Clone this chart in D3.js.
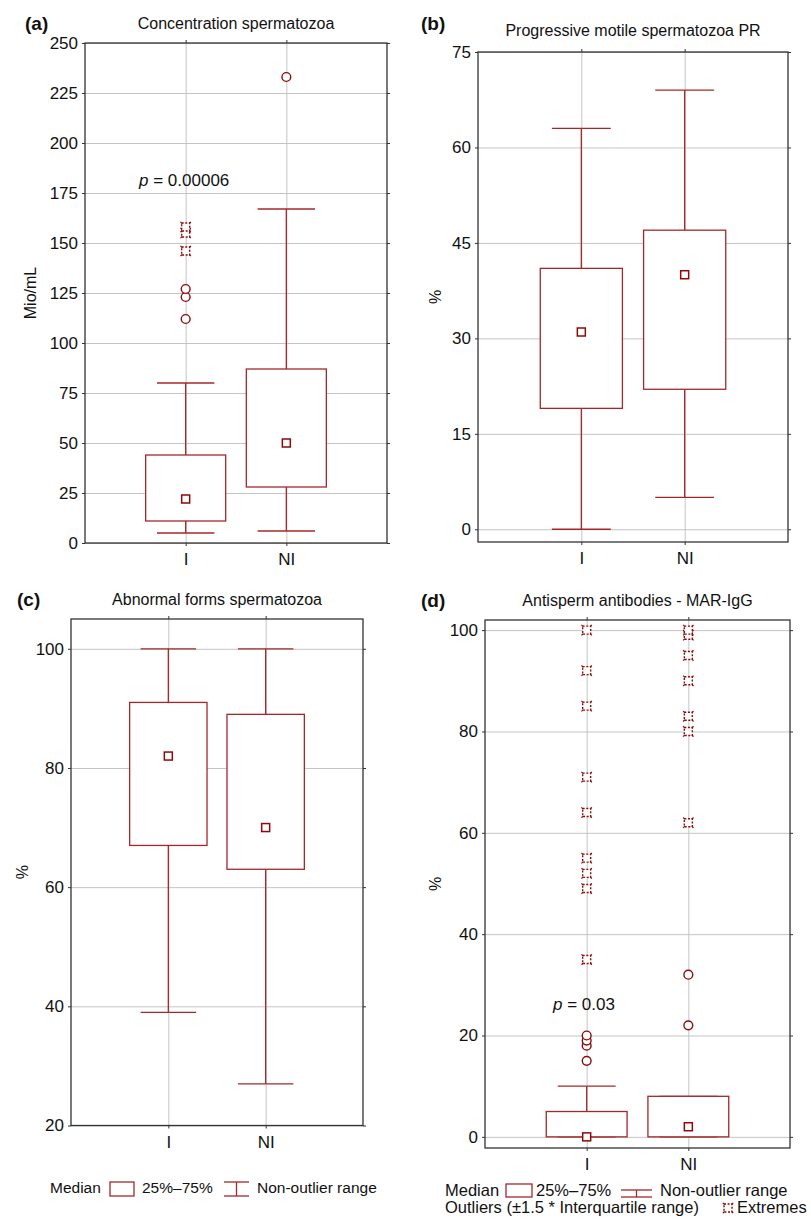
<!DOCTYPE html>
<html>
<head>
<meta charset="utf-8">
<script src="https://cdn.jsdelivr.net/npm/d3@7"></script>
<style>
  body { margin: 0; background: #fff; }
  svg { font-family: "Liberation Sans", Arial, sans-serif; }
</style>
</head>
<body>
<svg id="chart" width="811" height="1224"></svg>
<script>
// Groups on the x axis
const groups = ["I", "NI"];

// (a) Concentration spermatozoa, Mio/mL - [min, q1, median, q3, max] per group
const concStats = [[5, 11, 22, 44, 80], [6, 28, 50, 87, 167]];
const concOutliers = [[112, 123, 127], [233]];
const concExtremes = [[146, 155, 158], []];
const concTicks = [0, 25, 50, 75, 100, 125, 150, 175, 200, 225, 250];

// (b) Progressive motile spermatozoa PR, %
const prStats = [[0, 19, 31, 41, 63], [5, 22, 40, 47, 69]];
const prTicks = [0, 15, 30, 45, 60, 75];

// (c) Abnormal forms spermatozoa, %
const abnStats = [[39, 67, 82, 91, 100], [27, 63, 70, 89, 100]];
const abnTicks = [20, 40, 60, 80, 100];

// (d) Antisperm antibodies - MAR-IgG, %
const marStats = [[0, 0, 0, 5, 10], [0, 0, 2, 8, 8]];
const marOutliers = [[15, 18, 19, 20], [22, 32]];
const marExtremes = [[35, 49, 52, 55, 64, 71, 85, 92, 100], [62, 80, 83, 90, 95, 99, 100]];
const marTicks = [0, 20, 40, 60, 80, 100];

const boxColor = "#a3282b";
const markColor = "#8b0a0a";

const panels = [
  { letter: "(a)", title: "Concentration spermatozoa", ylab: "Mio/mL",
    stats: concStats, outliers: concOutliers, extremes: concExtremes, ticks: concTicks,
    domain: [0, 250], left: 85, right: 387, top: 43, bottom: 543,
    letterPos: [25, 30], titleY: 29, ylabX: 36, p: { text: "0.00006", x: 139, y: 186 } },
  { letter: "(b)", title: "Progressive motile spermatozoa PR", ylab: "%",
    stats: prStats, outliers: [[], []], extremes: [[], []], ticks: prTicks,
    domain: [-2, 75], left: 478, right: 788, top: 52, bottom: 542,
    letterPos: [421, 30], titleY: 36, ylabX: 441 },
  { letter: "(c)", title: "Abnormal forms spermatozoa", ylab: "%",
    stats: abnStats, outliers: [[], []], extremes: [[], []], ticks: abnTicks,
    domain: [20, 105], left: 71, right: 363, top: 619, bottom: 1125.5,
    letterPos: [17, 606], titleY: 605, ylabX: 28 },
  { letter: "(d)", title: "Antisperm antibodies - MAR-IgG", ylab: "%",
    stats: marStats, outliers: marOutliers, extremes: marExtremes, ticks: marTicks,
    domain: [-2.2, 102], left: 485, right: 790, top: 620, bottom: 1148,
    letterPos: [421, 607], titleY: 606, ylabX: 441, p: { text: "0.03", x: 553, y: 1010 } }
];

const svg = d3.select("#chart");

function extremeMarker(g, cx, cy) {
  const m = g.append("g").attr("transform", `translate(${cx},${cy})`);
  m.append("rect")
    .attr("x", -4).attr("y", -4).attr("width", 8).attr("height", 8)
    .attr("fill", "#fff").attr("stroke", markColor)
    .attr("stroke-width", 1.4).attr("stroke-dasharray", "2 1.6");
  [[-1, -1], [1, -1], [-1, 1], [1, 1]].forEach(([sx, sy]) => {
    m.append("line")
      .attr("x1", sx * 3.5).attr("y1", sy * 3.5)
      .attr("x2", sx * 5.2).attr("y2", sy * 5.2)
      .attr("stroke", markColor).attr("stroke-width", 1.2);
  });
}

function drawPanel(p) {
  const width = p.right - p.left;
  const height = p.bottom - p.top;
  const g = svg.append("g");

  const x = d3.scalePoint().domain(groups).range([p.left, p.right]).padding(1);
  const y = d3.scaleLinear().domain(p.domain).range([p.bottom, p.top]);

  // Grid
  g.append("g")
    .attr("transform", `translate(${p.left},0)`)
    .call(d3.axisLeft(y).tickValues(p.ticks).tickSize(-width).tickFormat(""))
    .call(s => s.select(".domain").remove())
    .selectAll("line").attr("stroke", "#c4c4c4");
  g.append("g")
    .attr("transform", `translate(0,${p.bottom})`)
    .call(d3.axisBottom(x).tickSize(-height).tickFormat(""))
    .call(s => s.select(".domain").remove())
    .selectAll("line").attr("stroke", "#c4c4c4");

  // Axes with labels
  const yAxis = g.append("g")
    .attr("transform", `translate(${p.left},0)`)
    .call(d3.axisLeft(y).tickValues(p.ticks).tickSize(3).tickPadding(4));
  const xAxis = g.append("g")
    .attr("transform", `translate(0,${p.bottom})`)
    .call(d3.axisBottom(x).tickSize(3).tickPadding(7));
  g.append("g")
    .attr("transform", `translate(${p.right},0)`)
    .call(d3.axisRight(y).tickValues(p.ticks).tickSize(3).tickFormat(""));
  g.append("g")
    .attr("transform", `translate(0,${p.top})`)
    .call(d3.axisTop(x).tickSize(3).tickFormat(""));
  g.selectAll(".domain").remove();
  g.selectAll(".tick line").filter(function () { return this.getAttribute("stroke") !== "#c4c4c4"; })
    .attr("stroke", "#333");
  [yAxis, xAxis].forEach(a => a.selectAll("text")
    .attr("font-size", 17).attr("fill", "#111")
    .style("font-family", '"Liberation Sans", Arial, sans-serif'));

  // Frame
  g.append("rect")
    .attr("x", p.left).attr("y", p.top)
    .attr("width", width).attr("height", height)
    .attr("fill", "none").attr("stroke", "#333").attr("stroke-width", 1.3);

  const boxW = width * 0.265;
  const capW = width * 0.19;

  groups.forEach((grp, i) => {
    const [mn, q1, med, q3, mx] = p.stats[i];
    const cx = x(grp);
    const wg = g.append("g").attr("stroke", boxColor).attr("stroke-width", 1.3);
    wg.append("line").attr("x1", cx).attr("x2", cx).attr("y1", y(mn)).attr("y2", y(q1));
    wg.append("line").attr("x1", cx).attr("x2", cx).attr("y1", y(q3)).attr("y2", y(mx));
    wg.append("line").attr("x1", cx - capW / 2).attr("x2", cx + capW / 2).attr("y1", y(mn)).attr("y2", y(mn));
    wg.append("line").attr("x1", cx - capW / 2).attr("x2", cx + capW / 2).attr("y1", y(mx)).attr("y2", y(mx));
    wg.append("rect")
      .attr("x", cx - boxW / 2).attr("y", y(q3))
      .attr("width", boxW).attr("height", Math.max(0, y(q1) - y(q3)))
      .attr("fill", "#fff");
    g.append("rect")
      .attr("x", cx - 4).attr("y", y(med) - 4).attr("width", 8).attr("height", 8)
      .attr("fill", "#fff").attr("stroke", markColor).attr("stroke-width", 1.5);

    p.outliers[i].forEach(v => {
      g.append("circle").attr("cx", cx).attr("cy", y(v)).attr("r", 4.4)
        .attr("fill", "#fff").attr("stroke", markColor).attr("stroke-width", 1.4);
    });
    p.extremes[i].forEach(v => extremeMarker(g, cx, y(v)));
  });

  // Titles and labels
  svg.append("text").attr("x", p.letterPos[0]).attr("y", p.letterPos[1])
    .attr("font-size", 19).attr("font-weight", "bold").attr("fill", "#111").text(p.letter);
  svg.append("text").attr("x", (p.left + p.right) / 2).attr("y", p.titleY)
    .attr("text-anchor", "middle").attr("font-size", 16).attr("fill", "#111").text(p.title);
  svg.append("text")
    .attr("transform", `translate(${p.ylabX},${(p.top + p.bottom) / 2}) rotate(-90)`)
    .attr("text-anchor", "middle").attr("font-size", 16).attr("fill", "#111").text(p.ylab);

  if (p.p) {
    const t = svg.append("text").attr("x", p.p.x).attr("y", p.p.y)
      .attr("font-size", 17).attr("fill", "#111");
    t.append("tspan").attr("font-style", "italic").text("p");
    t.append("tspan").text(" = " + p.p.text);
  }
}

panels.forEach(drawPanel);

// Legend symbols
function boxSymbol(x0, y0, w, h) {
  svg.append("rect").attr("x", x0).attr("y", y0).attr("width", w).attr("height", h)
    .attr("fill", "#fff").attr("stroke", boxColor).attr("stroke-width", 1.3);
}
function whiskerSymbol(x0, y0, w, h) {
  const cx = x0 + w / 2;
  const s = svg.append("g").attr("stroke", boxColor).attr("stroke-width", 1.3);
  s.append("line").attr("x1", x0).attr("x2", x0 + w).attr("y1", y0).attr("y2", y0);
  s.append("line").attr("x1", cx).attr("x2", cx).attr("y1", y0).attr("y2", y0 + h);
  s.append("line").attr("x1", x0).attr("x2", x0 + w).attr("y1", y0 + h).attr("y2", y0 + h);
}
function legendText(x0, y0, txt, size) {
  svg.append("text").attr("x", x0).attr("y", y0).attr("font-size", size)
    .attr("fill", "#111").text(txt);
}

// Legend under (c)
legendText(50, 1193, "Median", 15.5);
boxSymbol(110, 1182, 24, 14);
legendText(142, 1193, "25%\u201375%", 15.5);
whiskerSymbol(224, 1182, 25, 14);
legendText(257, 1193, "Non-outlier range", 15.5);

// Legend under (d)
legendText(445, 1196, "Median", 16.5);
boxSymbol(506, 1184, 26, 13);
legendText(536, 1196, "25%\u201375%", 16.5);
whiskerSymbol(621, 1190, 31, 7);
legendText(660, 1196, "Non-outlier range", 16.5);
legendText(445, 1213, "Outliers (\u00b11.5 * Interquartile range)", 16.5);
extremeMarker(svg, 728, 1208);
legendText(737, 1213, "Extremes", 16.5);
</script>
</body>
</html>
